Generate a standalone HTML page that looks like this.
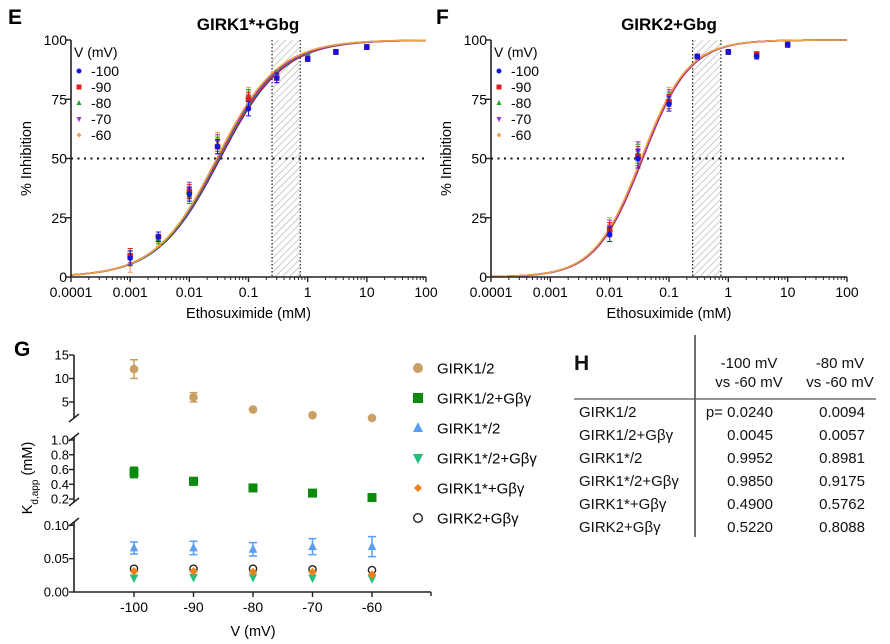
<!DOCTYPE html>
<html><head><meta charset="utf-8"><style>
body{margin:0;background:#fff}
svg{display:block;font-family:"Liberation Sans",Arial,sans-serif}
</style></head><body>
<svg id="fig" width="890" height="644" viewBox="0 0 890 644">
<defs>
<pattern id="hatch" width="5" height="5" patternUnits="userSpaceOnUse" patternTransform="rotate(45)">
<rect width="5" height="5" fill="#fff"/><line x1="0" y1="0" x2="0" y2="5" stroke="#aaa" stroke-width="1.2"/>
</pattern>
</defs>
<text x="8" y="24" font-size="21" font-weight="bold">E</text>
<text x="248" y="30" font-size="17" font-weight="bold" text-anchor="middle">GIRK1*+Gbg</text>
<text x="436" y="24" font-size="21" font-weight="bold">F</text>
<text x="669" y="30" font-size="17" font-weight="bold" text-anchor="middle">GIRK2+Gbg</text>
<text x="14" y="356" font-size="21" font-weight="bold">G</text>
<g id="gE"></g>
<g id="gF"></g>
<g id="gG"></g>
<g id="tableH" font-size="15" fill="#111">
<text x="574" y="370" font-size="21" font-weight="bold">H</text>
<line x1="695" y1="335" x2="695" y2="537" stroke="#222" stroke-width="1.3"/>
<line x1="574" y1="399" x2="876" y2="399" stroke="#555" stroke-width="1.3"/>
<text x="749" y="368" text-anchor="middle">-100 mV</text>
<text x="749" y="387" text-anchor="middle">vs -60 mV</text>
<text x="840" y="368" text-anchor="middle">-80 mV</text>
<text x="840" y="387" text-anchor="middle">vs -60 mV</text>
</g>
</svg>
<script>
const NS="http://www.w3.org/2000/svg";
function mk(p,tag,at,txt){const e=document.createElementNS(NS,tag);for(const k in at)e.setAttribute(k,at[k]);if(txt!==undefined)e.textContent=txt;p.appendChild(e);return e;}

const voltages=["-100","-90","-80","-70","-60"];
const seriesColors=["#1515e0","#e0201b","#1fa51f","#9a2ee0","#f0a040"];
const concE=[0.001,0.003,0.01,0.03,0.1,0.3,1,3,10];
const eV100=[8,17,35,55,71,84,92,95,97];
const eV90=[9,17,36,55,75,84,92,95,97];
const eV80=[8,16,34,56,76,85,93,95,97];
const eV70=[8,17,37,57,76,85,93,95,97];
const eV60=[5,15,35,58,77,85,93,95,97];
const errE=[3,2,3,3,3,2,1,1,1];
const ic50E=[0.033,0.032,0.031,0.030,0.029];
const hillE=[0.82,0.82,0.83,0.83,0.84];
const concF=[0.01,0.03,0.1,0.3,1,3,10];
const fV100=[18,50,73,93,95,93,98];
const fV90=[20,51,74,93,95,94,98];
const fV80=[20,52,75,93,95,94,98];
const fV70=[21,53,76,93,95,94,98];
const fV60=[22,53,77,93,95,94,98];
const errF=[3,4,3,1,1,1,1];
const ic50F=[0.036,0.036,0.035,0.035,0.034];
const hillF=[1.1,1.1,1.1,1.1,1.1];

function logPanel(g,x0,x1,y0,y1,conc,vals,err,ic50,hill,showLegend){
  const lo=-4,hi=2;
  const xs=c=>x0+(Math.log10(c)-lo)/(hi-lo)*(x1-x0);
  const ys=v=>y1-(v/100)*(y1-y0);
  let r=mk(g,'rect',{x:xs(0.25),y:y0,width:xs(0.75)-xs(0.25),height:y1-y0,fill:'url(#hatch)'});
  
  for(const c of [0.25,0.75]){let l=mk(g,'line',{x1:xs(c),y1:y0,x2:xs(c),y2:y1,stroke:'#222','stroke-width':1.2,'stroke-dasharray':'1.5,2'});
  }
  let h=mk(g,'line',{x1:x0,y1:ys(50),x2:x1,y2:ys(50),stroke:'#111','stroke-width':2,'stroke-dasharray':'2,4.5'});
  
  for(let s=0;s<5;s++){
    let d='';for(let i=0;i<=300;i++){const lc=lo+(hi-lo)*i/300;const c=Math.pow(10,lc);const t=Math.pow(c/ic50[s],hill[s]);const v=100*t/(1+t);d+=(i?'L':'M')+xs(c).toFixed(1)+','+ys(v).toFixed(1);}
    let p=mk(g,'path',{d:d,fill:'none',stroke:seriesColors[s],'stroke-width':1.6});
    
  }
  for(let s=4;s>=0;s--){
    const sv=vals[s];
    for(let i=0;i<conc.length;i++){
      const X=xs(conc[i]),Y=ys(sv[i]),e=err[i];
      let eb=mk(g,'path',{d:`M${X},${ys(sv[i]+e)}V${ys(sv[i]-e)}M${X-2.5},${ys(sv[i]+e)}h5M${X-2.5},${ys(sv[i]-e)}h5`,stroke:seriesColors[s],'stroke-width':1,fill:'none'});
      
      marker(g,s,X,Y,2.8);
    }
  }
  let ax=mk(g,'path',{d:`M${x0},${y0}V${y1}H${x1}`,fill:'none',stroke:'#222','stroke-width':1.6});
  
  for(const v of [0,25,50,75,100]){
    mk(g,'line',{x1:x0-5,y1:ys(v),x2:x0,y2:ys(v),stroke:'#222','stroke-width':1.4});
    let t=mk(g,'text',{x:x0-4,y:ys(v)+5,'font-size':14,'text-anchor':'end'},String(v));
    
  }
  const xl=["0.0001","0.001","0.01","0.1","1","10","100"];
  for(let k=lo;k<=hi;k++){
    const X=xs(Math.pow(10,k));
    mk(g,'line',{x1:X,y1:y1,x2:X,y2:y1+5,stroke:'#222','stroke-width':1.4});
    let t=mk(g,'text',{x:X,y:y1+20,'font-size':14,'text-anchor':'middle'},xl[k-lo]);
    
    if(k<hi)for(let m=2;m<10;m++){const Xm=xs(m*Math.pow(10,k));mk(g,'line',{x1:Xm,y1:y1,x2:Xm,y2:y1+3,stroke:'#222','stroke-width':1});}
  }
  let xt=mk(g,'text',{x:(x0+x1)/2,y:y1+41,'font-size':14.5,'text-anchor':'middle'},'Ethosuximide (mM)');
  
  if(showLegend){
    let yt=mk(g,'text',{x:0,y:0,'font-size':14.5,'text-anchor':'middle',transform:`translate(${x0-40},${(y0+y1)/2}) rotate(-90)`},'% Inhibition');
    
  }
  let lt=mk(g,'text',{x:x0+3,y:y0+17,'font-size':14},'V (mV)');
  
  for(let s=0;s<5;s++){
    const Y=y0+31+s*16;
    let lg=mk(g,'g',{});
    
    marker(lg,s,x0+8,Y,2.5);
    mk(lg,'text',{x:x0+20,y:Y+5,'font-size':14},voltages[s]);
  }
}
function marker(g,s,X,Y,r){
  const c=seriesColors[s];let m;
  if(s===0)m=mk(g,'circle',{cx:X,cy:Y,r:r,fill:c});
  else if(s===1)m=mk(g,'rect',{x:X-r,y:Y-r,width:2*r,height:2*r,fill:c});
  else if(s===2)m=mk(g,'path',{d:`M${X},${Y-r*1.2}L${X+r},${Y+r*0.8}L${X-r},${Y+r*0.8}Z`,fill:c});
  else if(s===3)m=mk(g,'path',{d:`M${X},${Y+r*1.2}L${X+r},${Y-r*0.8}L${X-r},${Y-r*0.8}Z`,fill:c});
  else m=mk(g,'path',{d:`M${X},${Y-r}L${X+r},${Y}L${X},${Y+r}L${X-r},${Y}Z`,fill:c});
  
}
logPanel(document.getElementById('gE'),71,426,40,277,concE,[eV100,eV90,eV80,eV70,eV60],errE,ic50E,hillE,true);
logPanel(document.getElementById('gF'),491,847,40,277,concF,[fV100,fV90,fV80,fV70,fV60],errF,ic50F,hillF,true);

const gVolt=[-100,-90,-80,-70,-60];
const gNames=["GIRK1/2","GIRK1/2+Gβγ","GIRK1*/2","GIRK1*/2+Gβγ","GIRK1*+Gβγ","GIRK2+Gβγ"];
const gK12=[12,6,3.4,2.2,1.6];
const gK12err=[2,1,0.3,0.2,0.2];
const gK12G=[0.56,0.44,0.35,0.28,0.22];
const gK12Gerr=[0.07,0.05,0.02,0.02,0.02];
const gK1s2=[0.066,0.066,0.064,0.068,0.068];
const gK1s2err=[0.009,0.01,0.01,0.012,0.015];
const gK1s2G=[0.021,0.022,0.022,0.021,0.020];
const gK1sG=[0.031,0.031,0.030,0.030,0.026];
const gK2G=[0.035,0.035,0.035,0.034,0.033];
const gColors=["#c9a063","#0b8a0b","#5c9ff0","#20bf7c","#f0801e","#222"];
(function(){
  const g=document.getElementById('gG');
  const X0=74,X1=431;
  const xs=v=>134+(v+100)/40*(372-134);
  function ys(v){
    if(v>1.1)return 355+(15-v)*4.7;
    if(v>0.11)return 440+(1-v)*73.75;
    return 592-v*667;
  }
  let ax=mk(g,'path',{d:`M${X0},355V418M${X0},437V502M${X0},522V592H${X1}`,fill:'none',stroke:'#222','stroke-width':1.6});
  
  for(const y of [418,437,502,522])mk(g,'line',{x1:X0-5,y1:y+4,x2:X0+5,y2:y-4,stroke:'#222','stroke-width':1.5});
  mk(g,'line',{x1:X1,y1:592,x2:X1,y2:596,stroke:'#222','stroke-width':1.4});
  const yT=[15,10,5,1.0,0.8,0.6,0.4,0.2,0.1,0.05,0];
  const yTL=["15","10","5","1.0","0.8","0.6","0.4","0.2","0.10","0.05","0.00"];
  yT.forEach((v,i)=>{const Y=ys(v);mk(g,'line',{x1:X0-5,y1:Y,x2:X0,y2:Y,stroke:'#222','stroke-width':1.4});
    let t=mk(g,'text',{x:X0-5,y:Y+4.5,'font-size':13,'text-anchor':'end'},yTL[i]);
    });
  gVolt.forEach(v=>{const X=xs(v);mk(g,'line',{x1:X,y1:592,x2:X,y2:597,stroke:'#222','stroke-width':1.4});
    let t=mk(g,'text',{x:X,y:612,'font-size':14,'text-anchor':'middle'},String(v));
    });
  let xt=mk(g,'text',{x:253,y:636,'font-size':14.5,'text-anchor':'middle'},'V (mV)');
  
  let yt=mk(g,'text',{x:0,y:0,'font-size':14.5,'text-anchor':'middle',transform:'translate(32,478) rotate(-90)'});
  
  yt.innerHTML='K<tspan baseline-shift="sub" font-size="10">d,app</tspan> (mM)';
  function mkr(s,X,Y,r){let m;const c=gColors[s];
    if(s===0)m=mk(g,'circle',{cx:X,cy:Y,r:r,fill:c});
    else if(s===1)m=mk(g,'rect',{x:X-r,y:Y-r,width:2*r,height:2*r,fill:c});
    else if(s===2)m=mk(g,'path',{d:`M${X},${Y-r*1.2}L${X+r},${Y+r*0.8}L${X-r},${Y+r*0.8}Z`,fill:c});
    else if(s===3)m=mk(g,'path',{d:`M${X},${Y+r*1.2}L${X+r},${Y-r*0.8}L${X-r},${Y-r*0.8}Z`,fill:c});
    else if(s===4)m=mk(g,'path',{d:`M${X},${Y-r}L${X+r},${Y}L${X},${Y+r}L${X-r},${Y}Z`,fill:c});
    else m=mk(g,'circle',{cx:X,cy:Y,r:r-0.7,fill:'none',stroke:c,'stroke-width':1.4});
    }
  const all=[gK12,gK12G,gK1s2,gK1s2G,gK1sG,gK2G];
  const errs=[gK12err,gK12Gerr,gK1s2err,null,null,null];
  [5,0,1,2,3,4].forEach(s=>{
    all[s].forEach((v,i)=>{const X=xs(gVolt[i]);
      if(errs[s]){const e=errs[s][i];let eb=mk(g,'path',{d:`M${X},${ys(v+e)}V${ys(v-e)}M${X-4},${ys(v+e)}h8M${X-4},${ys(v-e)}h8`,stroke:gColors[s],'stroke-width':1.5,fill:'none'});
        }
      mkr(s,X,ys(v),s===1?4.5:4.3);});
  });
  gNames.forEach((n,s)=>{const Y=368+s*30;
    let lg=mk(g,'g',{});
    
    mkr(s,418,Y,s===4?4:5);
    let t=mk(g,'text',{x:437,y:Y+5.5,'font-size':15},n);
    });
})();

const tRows=["GIRK1/2","GIRK1/2+Gβγ","GIRK1*/2","GIRK1*/2+Gβγ","GIRK1*+Gβγ","GIRK2+Gβγ"];
const tCol1=["0.0240","0.0045","0.9952","0.9850","0.4900","0.5220"];
const tCol2=["0.0094","0.0057","0.8981","0.9175","0.5762","0.8088"];
(function(){
  const g=document.getElementById('tableH');
  tRows.forEach((r,i)=>{const Y=417+i*23;
    let a=mk(g,'text',{x:579,y:Y},r);
    let b=mk(g,'text',{x:773,y:Y,'text-anchor':'end'},(i===0?'p= ':'')+tCol1[i]);
    let c=mk(g,'text',{x:865,y:Y,'text-anchor':'end'},tCol2[i]);
  });
})();
</script>
</body></html>
